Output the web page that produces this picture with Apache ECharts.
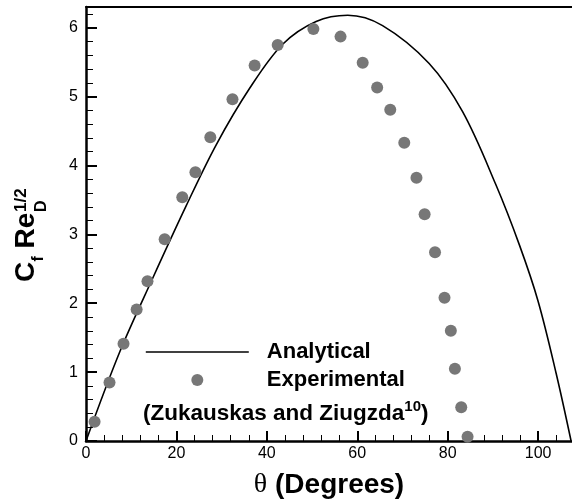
<!DOCTYPE html>
<html>
<head>
<meta charset="utf-8">
<script src="https://cdn.jsdelivr.net/npm/echarts@6/dist/echarts.min.js"></script>
<style>
  html, body { margin: 0; padding: 0; background: #fff; }
  #chart { width: 572px; height: 504px; }
</style>
</head>
<body>
<div id="chart"></div>
<script>
// Wall skin friction around a circular cylinder: analytical model vs. measurements

// Analytical curve (angle in degrees, Cf*Re_D^1/2)
const analyticalTheta = [0, 7.5, 14.8, 22.2, 28.8, 36.2, 43.5, 50.9, 57.9, 65.6, 75.9, 83.3, 90.6, 95.9, 100.0, 104.0, 107.3];
const analyticalCf    = [0, 1.30, 2.37, 3.42, 4.30, 5.12, 5.76, 6.09, 6.18, 6.03, 5.48, 4.78, 3.73, 2.84, 2.03, 0.98, 0];

// Experimental points (Zukauskas and Ziugzda)
const expTheta = [1.9, 5.2, 8.3, 11.2, 13.6, 17.4, 21.3, 24.2, 27.5, 32.4, 37.3, 42.4, 50.3, 56.3, 61.2, 64.4, 67.3, 70.4, 73.1, 74.9, 77.2, 79.3, 80.7, 81.6, 83.0, 84.4];
const expCf    = [0.28, 0.85, 1.41, 1.91, 2.32, 2.93, 3.54, 3.90, 4.41, 4.96, 5.45, 5.75, 5.98, 5.87, 5.49, 5.13, 4.81, 4.33, 3.82, 3.29, 2.74, 2.08, 1.60, 1.05, 0.49, 0.06];

// Axis ranges and tick spacing
const thetaRange = [0, 107.5];
const cfRange = [0, 6.3];
const thetaMajor = 20, thetaMinor = 4;
const cfMajor = 1, cfMinor = 0.2;

const seriesNames = ['Analytical', 'Experimental'];
const sourceNote = '(Zukauskas and Ziugzda';
const sourceRef = '10';

const SANS = '"Liberation Sans", Arial, Helvetica, sans-serif';
const SERIF = '"Liberation Serif", "Times New Roman", serif';

const analyticalData = analyticalTheta.map((t, i) => [t, analyticalCf[i]]);
const expData = expTheta.map((t, i) => [t, expCf[i]]);

const chart = echarts.init(document.getElementById('chart'), null, { renderer: 'canvas' });

const noSplit = { show: false };
const hidden = { show: false };

const option = {
  animation: false,
  backgroundColor: '#ffffff',
  grid: { left: 86, right: 0, top: 7, bottom: 56, containLabel: false },
  xAxis: [
    {
      type: 'value', position: 'bottom',
      min: thetaRange[0], max: thetaRange[1], interval: thetaMajor,
      axisLine: { show: true, onZero: false, lineStyle: { color: '#000', width: 2.5 } },
      axisTick: { show: true, inside: true, length: 10, lineStyle: { color: '#000', width: 2 } },
      axisLabel: { show: true, margin: 5, showMaxLabel: false, color: '#000', fontSize: 16, fontFamily: SANS },
      splitLine: noSplit,
      name: '{t|θ}{b| (Degrees)}',
      nameLocation: 'middle',
      nameGap: 29,
      nameTextStyle: {
        rich: {
          t: { fontFamily: SERIF, fontSize: 28, fontWeight: 'normal', color: '#000', lineHeight: 30 },
          b: { fontFamily: SANS, fontSize: 28, fontWeight: 'bold', color: '#000', lineHeight: 30 }
        }
      }
    },
    {
      // minor ticks along the bottom
      type: 'value', position: 'bottom',
      min: thetaRange[0], max: thetaRange[1], interval: thetaMinor,
      axisLine: hidden,
      axisTick: { show: true, inside: true, length: 6, lineStyle: { color: '#000', width: 1 } },
      axisLabel: hidden,
      splitLine: noSplit
    },
    {
      // frame line along the top
      type: 'value', position: 'top',
      min: thetaRange[0], max: thetaRange[1], interval: thetaMajor,
      axisLine: { show: true, onZero: false, lineStyle: { color: '#000', width: 2 } },
      axisTick: hidden, axisLabel: hidden, splitLine: noSplit
    }
  ],
  yAxis: [
    {
      type: 'value', position: 'left',
      min: cfRange[0], max: cfRange[1], interval: cfMajor,
      axisLine: { show: true, onZero: false, lineStyle: { color: '#000', width: 2.5 } },
      axisTick: { show: true, inside: true, length: 11, lineStyle: { color: '#000', width: 2 } },
      axisLabel: { show: true, margin: 8, showMaxLabel: false, color: '#000', fontSize: 16, fontFamily: SANS },
      splitLine: noSplit
    },
    {
      // minor ticks along the left side
      type: 'value', position: 'left',
      min: cfRange[0], max: cfRange[1], interval: cfMinor,
      axisLine: hidden,
      axisTick: { show: true, inside: true, length: 7, lineStyle: { color: '#000', width: 1 } },
      axisLabel: hidden,
      splitLine: noSplit
    }
  ],
  legend: {
    data: [
      { name: seriesNames[0], itemStyle: { opacity: 0 }, lineStyle: { color: '#000', width: 1.6, opacity: 1 } },
      { name: seriesNames[1] }
    ],
    orient: 'vertical',
    left: 145,
    top: 340,
    padding: 0,
    itemWidth: 103,
    itemHeight: 12,
    itemGap: 4,
    selectedMode: false,
    textStyle: {
      color: '#000', fontFamily: SANS, fontSize: 22, fontWeight: 'bold',
      lineHeight: 24, padding: [0, 0, 0, 13]
    }
  },
  graphic: [
    {
      type: 'text',
      left: 143,
      top: 399,
      style: {
        text: '{m|' + sourceNote + '}{s|' + sourceRef + '}{m|)}',
        rich: {
          m: { fontFamily: SANS, fontSize: 22.5, fontWeight: 'bold', fill: '#000', lineHeight: 26, verticalAlign: 'bottom' },
          s: { fontFamily: SANS, fontSize: 15, fontWeight: 'bold', fill: '#000', lineHeight: 14, verticalAlign: 'top' }
        }
      }
    },
    {
      // vertical axis title: C_f Re_D^(1/2)
      type: 'group',
      x: 26.5,
      y: 282,
      rotation: Math.PI / 2,
      children: [
        { type: 'text', x: 0, y: 0, style: { text: 'C', font: 'bold 28px ' + SANS, fill: '#000', align: 'left', verticalAlign: 'middle', textAlign: 'left', textVerticalAlign: 'middle' } },
        { type: 'text', x: 20.5, y: 12, style: { text: 'f', font: 'bold 16px ' + SANS, fill: '#000', align: 'left', verticalAlign: 'middle', textAlign: 'left', textVerticalAlign: 'middle' } },
        { type: 'text', x: 33.5, y: 0, style: { text: 'Re', font: 'bold 28px ' + SANS, fill: '#000', align: 'left', verticalAlign: 'middle', textAlign: 'left', textVerticalAlign: 'middle' } },
        { type: 'text', x: 70, y: 15, style: { text: 'D', font: 'bold 16px ' + SANS, fill: '#000', align: 'left', verticalAlign: 'middle', textAlign: 'left', textVerticalAlign: 'middle' } },
        { type: 'text', x: 70, y: -5, style: { text: '1/2', font: 'bold 17px ' + SANS, fill: '#000', align: 'left', verticalAlign: 'middle', textAlign: 'left', textVerticalAlign: 'middle' } }
      ]
    }
  ],
  series: [
    {
      name: seriesNames[0],
      type: 'line',
      xAxisIndex: 0, yAxisIndex: 0,
      data: analyticalData,
      smooth: 0.35,
      symbol: 'none',
      showSymbol: false,
      lineStyle: { color: '#000', width: 1.6 },
      itemStyle: { color: '#000' },
      z: 2
    },
    {
      name: seriesNames[1],
      type: 'scatter',
      xAxisIndex: 0, yAxisIndex: 0,
      data: expData,
      symbol: 'circle',
      symbolSize: 12,
      itemStyle: { color: '#777777', opacity: 1 },
      z: 3
    }
  ]
};

chart.setOption(option);
</script>
</body>
</html>
